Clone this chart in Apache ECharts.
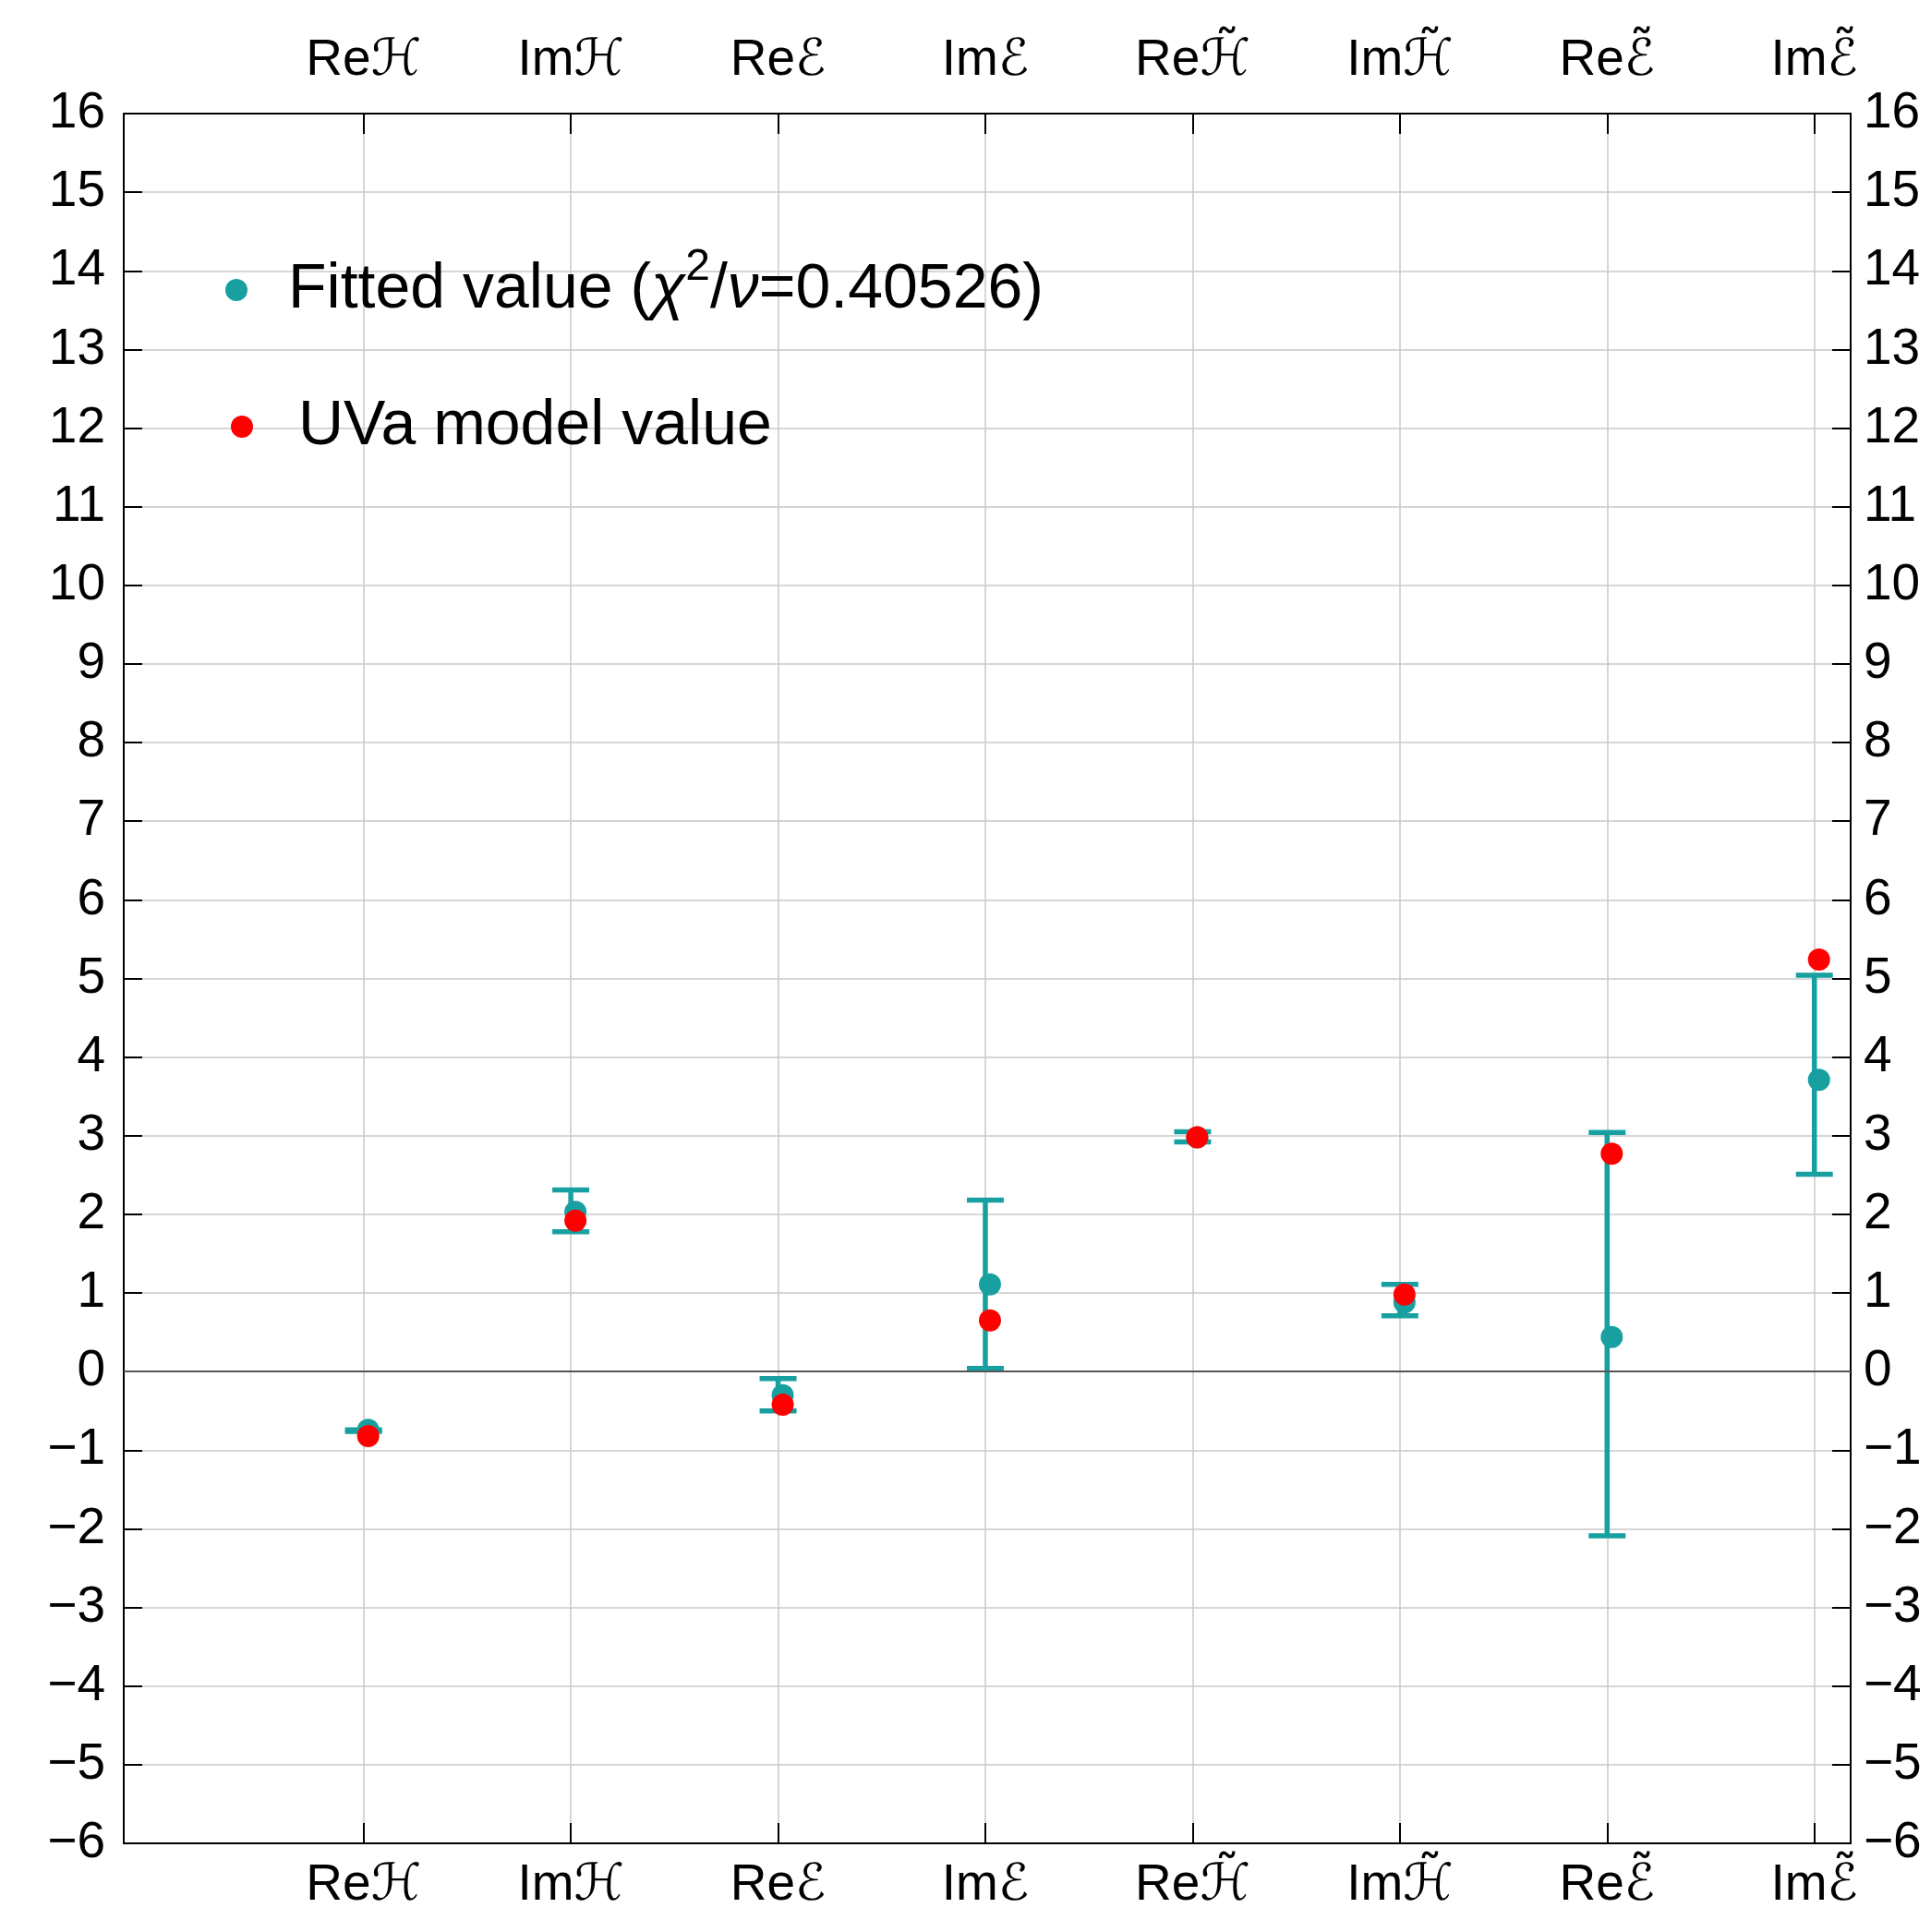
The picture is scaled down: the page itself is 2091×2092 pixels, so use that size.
<!DOCTYPE html>
<html><head><meta charset="utf-8">
<script src="https://cdn.jsdelivr.net/npm/echarts@6/dist/echarts.min.js"></script>
<style>html,body{margin:0;padding:0;background:#fff}#c{width:2091px;height:2092px}</style>
</head><body><div id="c"></div>
<script>
const categories = ['Re\u210B','Im\u210B','Re\u2130','Im\u2130','Re\u210B\u0303','Im\u210B\u0303','Re\u2130\u0303','Im\u2130\u0303'];
const categoryPositions = [1, 2, 3, 4, 5, 6, 7, 8];
const fittedValues = [-0.74, 2.03, -0.30, 1.11, 2.98, 0.88, 0.44, 3.71];
const errorLow  = [-0.76, 1.78, -0.50, 0.04, 2.92, 0.71, -2.09, 2.51];
const errorHigh = [-0.74, 2.31, -0.09, 2.18, 3.05, 1.11, 3.04, 5.04];
const modelValues = [-0.82, 1.92, -0.42, 0.65, 2.98, 0.98, 2.77, 5.24];
const yMin = -6, yMax = 16, yStep = 1;

const TEAL = '#18a0a0';
const RED = '#ff0000';
const FONT = '"Liberation Sans", Arial, "DejaVu Sans", sans-serif';

const chart = echarts.init(document.getElementById('c'), null, {renderer: 'canvas'});

const fmtY = v => String(v).replace('-', '\u2212');
const fmtX = v => categories[Math.round(v) - 1] || '';

const xCommon = {
  type: 'value', min: -0.157, max: 8.175,
  axisLine: {show: true, onZero: false, lineStyle: {color: '#000', width: 2}},
  axisTick: {show: true, inside: true, length: 22, customValues: categoryPositions, lineStyle: {color: '#000', width: 2}},
  axisLabel: {show: true, customValues: categoryPositions, formatter: fmtX, color: '#000', fontSize: 55, fontFamily: FONT},
};
const yCommon = {
  type: 'value', min: yMin, max: yMax, interval: yStep,
  axisLine: {show: true, onZero: false, lineStyle: {color: '#000', width: 2}},
  axisTick: {show: true, inside: true, length: 20, lineStyle: {color: '#000', width: 2}},
  axisLabel: {show: true, formatter: fmtY, color: '#000', fontSize: 55, fontFamily: FONT},
};

const errData = categoryPositions.map((x, i) => [x, errorLow[i], errorHigh[i]]);
const fitData = categoryPositions.map((x, i) => [x, fittedValues[i]]);
const modData = categoryPositions.map((x, i) => [x, modelValues[i]]);

const option = {
  backgroundColor: '#fff',
  animation: false,
  grid: {left: 134, right: 87, top: 123, bottom: 96, containLabel: false},
  xAxis: [
    Object.assign({}, xCommon, {position: 'bottom',
      axisLabel: Object.assign({}, xCommon.axisLabel, {margin: 18}),
      splitLine: {show: true, lineStyle: {color: '#c8c8c8', width: 1.5}}}),
    Object.assign({}, xCommon, {position: 'top',
      axisLabel: Object.assign({}, xCommon.axisLabel, {margin: 30}),
      splitLine: {show: false}})
  ],
  yAxis: [
    Object.assign({}, yCommon, {position: 'left',
      axisLabel: Object.assign({}, yCommon.axisLabel, {margin: 20}),
      splitLine: {show: true, lineStyle: {color: '#c8c8c8', width: 1.5}}}),
    Object.assign({}, yCommon, {position: 'right',
      axisLabel: Object.assign({}, yCommon.axisLabel, {margin: 14}),
      splitLine: {show: false}})
  ],
  legend: [
    {
      data: ['Fitted value'], left: 239, top: 261, orient: 'vertical', selectedMode: false,
      icon: 'circle', itemWidth: 24, itemHeight: 24,
      formatter: () => '{sp|}{a|Fitted value (}{i|\u03C7}{s|2}{a|/}{i|\u03BD}{a|=0.40526)}',
      textStyle: {color: '#000', fontSize: 68, fontFamily: FONT, rich: {
        sp: {width: 39},
        a: {fontSize: 68, fontFamily: FONT, color: '#000'},
        i: {fontSize: 68, fontFamily: FONT, fontStyle: 'italic', color: '#000'},
        s: {fontSize: 48, fontFamily: FONT, color: '#000', padding: [0, 0, 48, 0]}
      }}
    },
    {
      data: ['UVa model value'], left: 245, top: 423, orient: 'vertical', selectedMode: false,
      icon: 'circle', itemWidth: 24, itemHeight: 24,
      formatter: () => '{sp|}{a|UVa model value}',
      textStyle: {color: '#000', fontSize: 68, fontFamily: FONT, rich: {
        sp: {width: 44},
        a: {fontSize: 68, fontFamily: FONT, color: '#000'}
      }}
    }
  ],
  series: [
    {
      name: 'Error', type: 'custom', xAxisIndex: 0, yAxisIndex: 0, data: errData, z: 3,
      renderItem: function (params, api) {
        const x = api.value(0), lo = api.value(1), hi = api.value(2);
        const pLo = api.coord([x, lo]), pHi = api.coord([x, hi]);
        const hw = 20;
        const style = {stroke: TEAL, lineWidth: 5.5, fill: null};
        return {type: 'group', children: [
          {type: 'line', shape: {x1: pLo[0], y1: pLo[1], x2: pHi[0], y2: pHi[1]}, style: style},
          {type: 'line', shape: {x1: pLo[0] - hw, y1: pLo[1], x2: pLo[0] + hw, y2: pLo[1]}, style: style},
          {type: 'line', shape: {x1: pHi[0] - hw, y1: pHi[1], x2: pHi[0] + hw, y2: pHi[1]}, style: style}
        ]};
      },
      markLine: {silent: true, symbol: ['none', 'none'], label: {show: false},
        lineStyle: {color: '#555', width: 2, type: 'solid'}, data: [{yAxis: 0}]}
    },
    {
      name: 'Fitted value', type: 'scatter', data: fitData, symbol: 'circle', symbolSize: 24,
      symbolOffset: [5, 0], z: 4,
      itemStyle: {color: TEAL, opacity: 1}
    },
    {
      name: 'UVa model value', type: 'scatter', data: modData, symbol: 'circle', symbolSize: 24,
      symbolOffset: [5, 0], z: 5,
      itemStyle: {color: RED, opacity: 1}
    }
  ]
};
chart.setOption(option);
</script>
</body></html>
